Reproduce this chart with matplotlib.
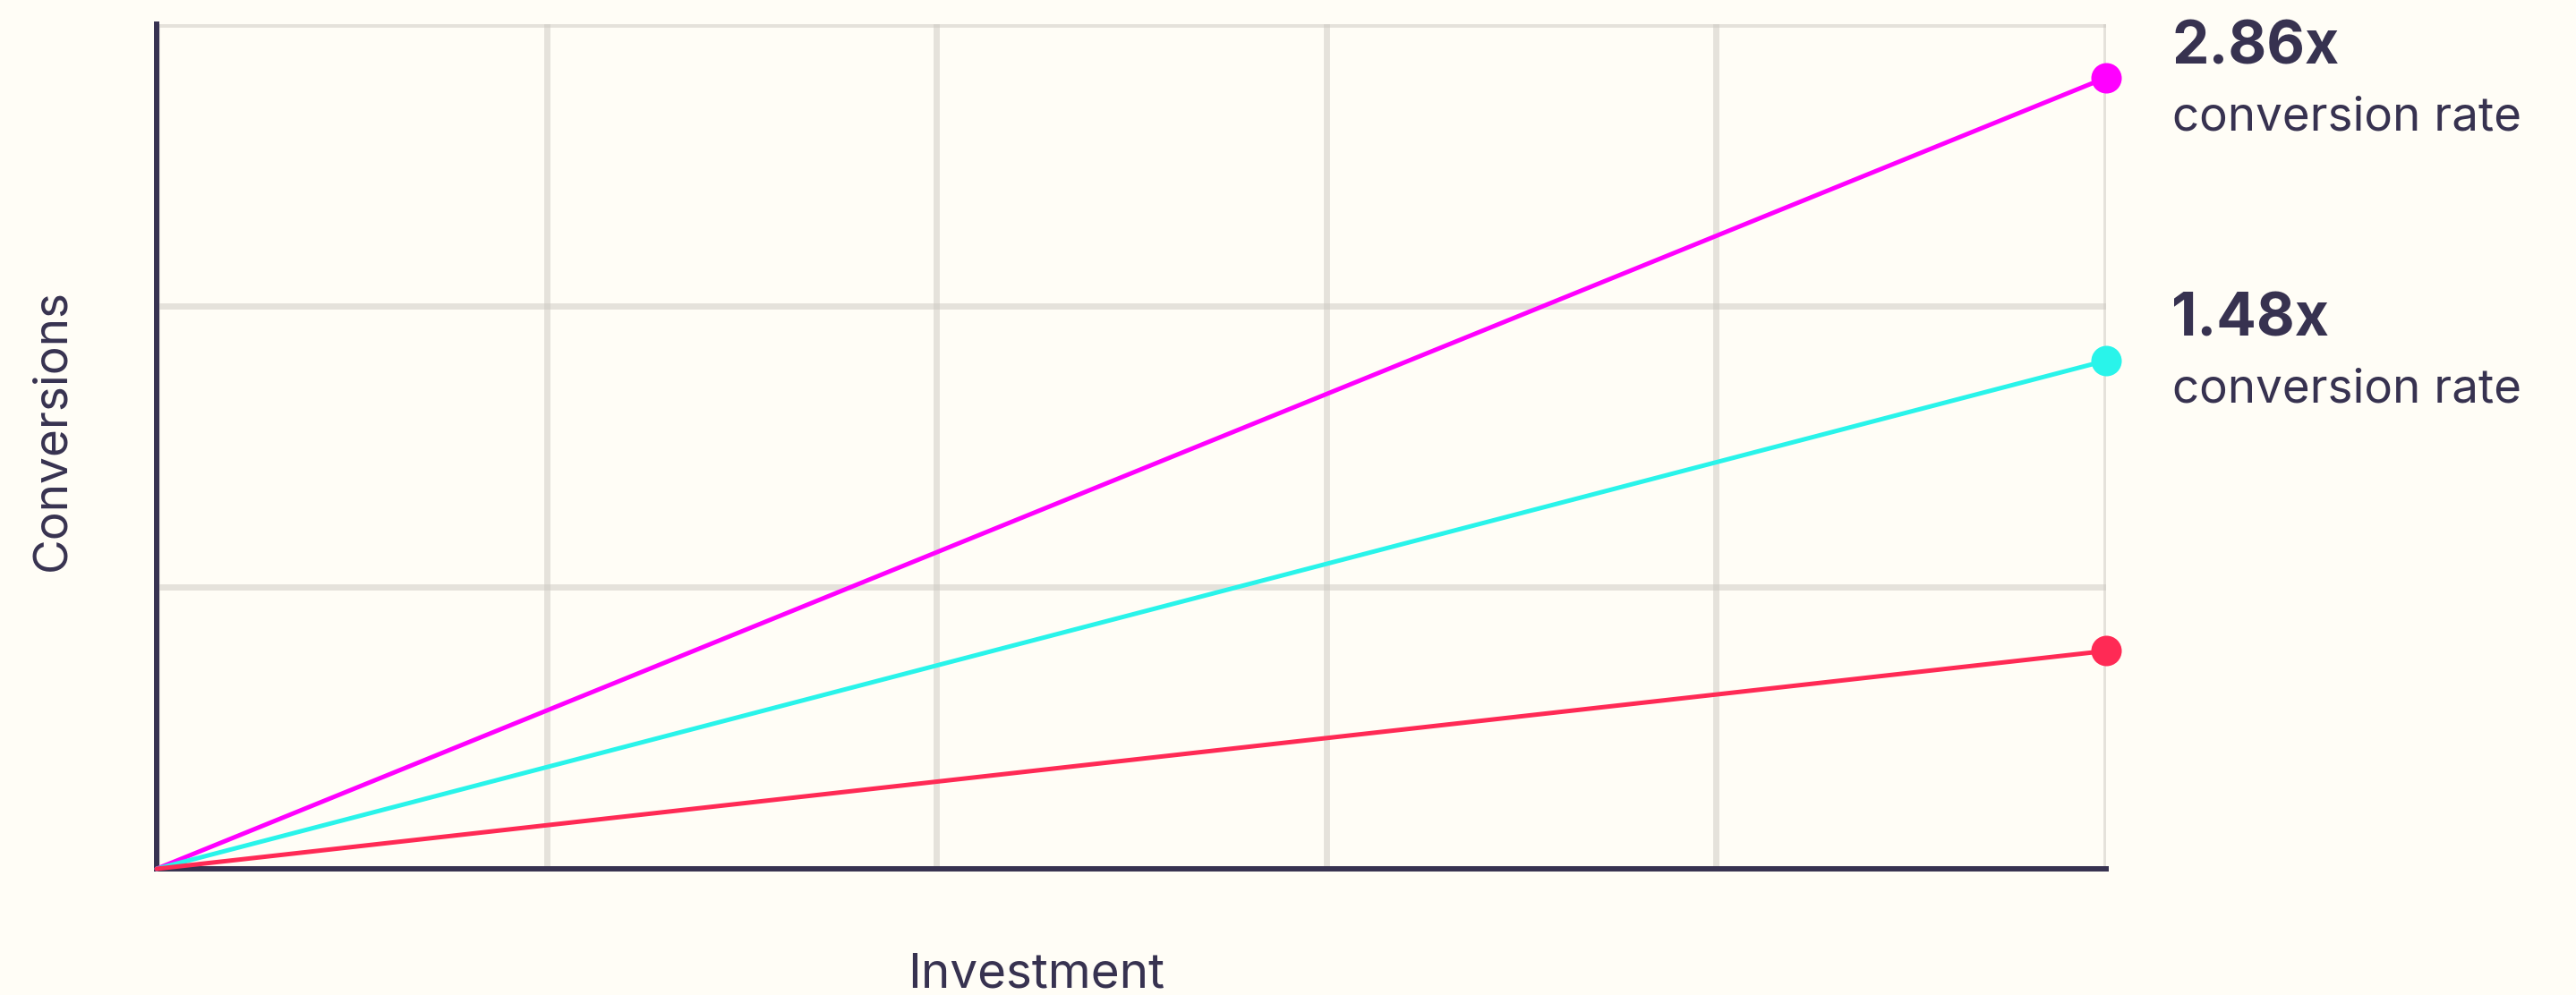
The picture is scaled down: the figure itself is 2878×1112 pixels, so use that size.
import matplotlib
matplotlib.use("Agg")
import matplotlib.pyplot as plt

# ---- data ----
investment = [0, 5]
series_names = ["high", "mid", "low"]
high_vals = [0, 2.81]
mid_vals = [0, 1.805]
low_vals = [0, 0.774]
series_colors = ["#ff00ff", "#29f4ea", "#ff2a55"]
rate_labels = ["2.86x", "1.48x"]
rate_sub = "conversion rate"
x_ticks = [0, 1, 2, 3, 4, 5]
y_ticks = [0, 1, 2, 3]

BG = "#fffdf6"
DARK = "#373250"
GRID = "#cdc9c2"
FONT = "Inter"

W, H = 2878, 1112
fig = plt.figure(figsize=(W / 100, H / 100), dpi=100, facecolor=BG)

def fx(px):
    return px / W

def fy(py):
    return 1 - py / H

ax_l, ax_r, ax_t, ax_b = 175, 2353, 27, 971
ax = fig.add_axes([fx(ax_l), fy(ax_b), fx(ax_r - ax_l), (ax_b - ax_t) / H])
ax.set_facecolor(BG)
ax.set_xlim(0, 5)
ax.set_ylim(0, 3)
ax.set_xticks(x_ticks)
ax.set_yticks(y_ticks)
ax.tick_params(length=0, labelbottom=False, labelleft=False)
ax.grid(True, color=GRID, alpha=0.5, linewidth=5, zorder=0)
ax.set_axisbelow(True)
for s in ["top", "right"]:
    ax.spines[s].set_visible(False)
for s in ["left", "bottom"]:
    ax.spines[s].set_color(DARK)
    ax.spines[s].set_linewidth(4.3)
    ax.spines[s].set_zorder(1)

for vals, c in zip([high_vals, mid_vals, low_vals], series_colors):
    ax.plot(investment, vals, color=c, linewidth=3.6, solid_capstyle="round",
            zorder=3, clip_on=False)
    ax.plot([investment[-1]], [vals[-1]], "o", color=c, markersize=24.5,
            markeredgewidth=0, zorder=4, clip_on=False)

renderer = fig.canvas.get_renderer()

def fit_text(t, target_px, horizontal=True):
    # scale font size so that the rendered text has the target extent
    for _ in range(3):
        bb = t.get_window_extent(renderer=renderer)
        cur = bb.width if horizontal else bb.height
        t.set_fontsize(t.get_fontsize() * target_px / cur)

# annotations on the right
tx = 2427
t1 = fig.text(fx(tx), fy(71), rate_labels[0], fontsize=52, fontweight="bold",
              color=DARK, family=FONT, va="baseline", ha="left")
fit_text(t1, 187)
t2 = fig.text(fx(tx), fy(146), rate_sub, fontsize=44, color=DARK, family=FONT,
              va="baseline", ha="left")
fit_text(t2, 391)
t3 = fig.text(fx(tx - 1), fy(375), rate_labels[1], fontsize=52,
              fontweight="bold", color=DARK, family=FONT, va="baseline",
              ha="left")
t3.set_fontsize(t1.get_fontsize())
t4 = fig.text(fx(tx), fy(449), rate_sub, fontsize=44, color=DARK, family=FONT,
              va="baseline", ha="left")
t4.set_fontsize(t2.get_fontsize())

# axis labels
t5 = fig.text(fx(1158), fy(1104), "Investment", fontsize=40, color=DARK,
              family=FONT, ha="center", va="baseline")
fit_text(t5, 287)
t6 = fig.text(fx(72), fy(480), "Conversions", fontsize=40, color=DARK,
              family=FONT, ha="center", va="baseline", rotation=90,
              rotation_mode="anchor")
fit_text(t6, 315, horizontal=False)

fig.savefig("out.png", dpi=100, facecolor=BG)
